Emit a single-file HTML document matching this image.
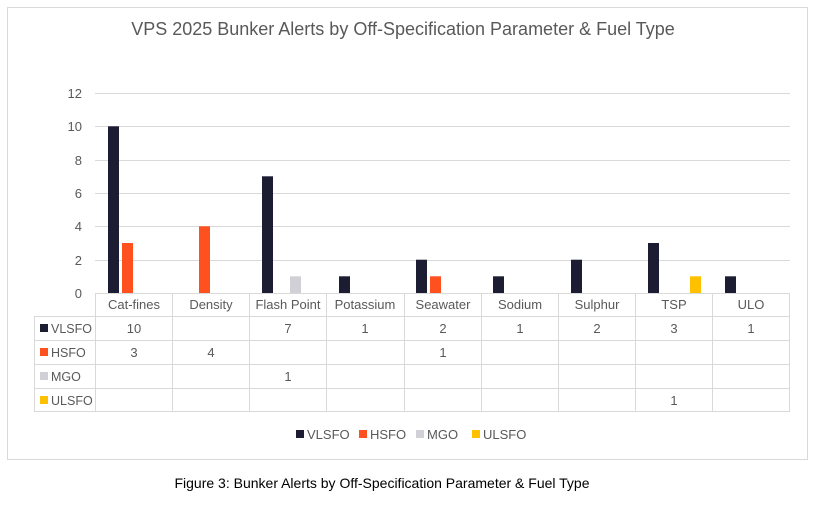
<!DOCTYPE html>
<html><head><style>
body{margin:0;background:#fff;width:815px;height:512px;overflow:hidden;font-family:"Liberation Sans",sans-serif}
</style></head><body>
<svg width="815" height="512" xmlns="http://www.w3.org/2000/svg" font-family="Liberation Sans, sans-serif">
<rect x="7.5" y="7.5" width="800" height="452" fill="#fff" stroke="#d9d9d9"/>
<text x="403" y="35" text-anchor="middle" font-size="18" fill="#595959">VPS 2025 Bunker Alerts by Off-Specification Parameter &amp; Fuel Type</text>
<g stroke="#d9d9d9" stroke-width="1">
<line x1="95" y1="93.5" x2="790" y2="93.5"/>
<line x1="95" y1="126.5" x2="790" y2="126.5"/>
<line x1="95" y1="160.5" x2="790" y2="160.5"/>
<line x1="95" y1="193.5" x2="790" y2="193.5"/>
<line x1="95" y1="226.5" x2="790" y2="226.5"/>
<line x1="95" y1="260.5" x2="790" y2="260.5"/>
</g>
<g font-size="13" fill="#595959" text-anchor="end">
<text x="82" y="98">12</text><text x="82" y="131">10</text><text x="82" y="165">8</text>
<text x="82" y="198">6</text><text x="82" y="231">4</text><text x="82" y="265">2</text><text x="82" y="298">0</text>
</g>
<g>
<rect x="108" y="126.3" width="11" height="166.7" fill="#1c1c33"/>
<rect x="122" y="243" width="11" height="50" fill="#ff5020"/>
<rect x="199" y="226.3" width="11" height="66.7" fill="#ff5020"/>
<rect x="262" y="176.3" width="11" height="116.7" fill="#1c1c33"/>
<rect x="290" y="276.3" width="11" height="16.7" fill="#d0d0d6"/>
<rect x="339" y="276.3" width="11" height="16.7" fill="#1c1c33"/>
<rect x="416" y="259.7" width="11" height="33.3" fill="#1c1c33"/>
<rect x="430" y="276.3" width="11" height="16.7" fill="#ff5020"/>
<rect x="493" y="276.3" width="11" height="16.7" fill="#1c1c33"/>
<rect x="571" y="259.7" width="11" height="33.3" fill="#1c1c33"/>
<rect x="648" y="243" width="11" height="50" fill="#1c1c33"/>
<rect x="690" y="276.3" width="11" height="16.7" fill="#ffc000"/>
<rect x="725" y="276.3" width="11" height="16.7" fill="#1c1c33"/>
</g>
<g stroke="#d9d9d9" stroke-width="1" fill="none">
<line x1="95" y1="293.5" x2="790" y2="293.5"/>
<line x1="34" y1="316.5" x2="790" y2="316.5"/>
<line x1="34" y1="340.5" x2="790" y2="340.5"/>
<line x1="34" y1="364.5" x2="790" y2="364.5"/>
<line x1="34" y1="388.5" x2="790" y2="388.5"/>
<line x1="34" y1="411.5" x2="790" y2="411.5"/>
<line x1="34.5" y1="316" x2="34.5" y2="412"/>
<line x1="95.5" y1="293" x2="95.5" y2="412"/>
<line x1="172.5" y1="293" x2="172.5" y2="412"/>
<line x1="249.5" y1="293" x2="249.5" y2="412"/>
<line x1="326.5" y1="293" x2="326.5" y2="412"/>
<line x1="404.5" y1="293" x2="404.5" y2="412"/>
<line x1="481.5" y1="293" x2="481.5" y2="412"/>
<line x1="558.5" y1="293" x2="558.5" y2="412"/>
<line x1="635.5" y1="293" x2="635.5" y2="412"/>
<line x1="712.5" y1="293" x2="712.5" y2="412"/>
<line x1="789.5" y1="293" x2="789.5" y2="412"/>
</g>
<g font-size="13" fill="#595959" text-anchor="middle">
<text x="134" y="309">Cat-fines</text><text x="211" y="309">Density</text><text x="288" y="309">Flash Point</text>
<text x="365" y="309">Potassium</text><text x="443" y="309">Seawater</text><text x="520" y="309">Sodium</text>
<text x="597" y="309">Sulphur</text><text x="674" y="309">TSP</text><text x="751" y="309">ULO</text>
<text x="134" y="333">10</text><text x="288" y="333">7</text><text x="365" y="333">1</text><text x="443" y="333">2</text>
<text x="520" y="333">1</text><text x="597" y="333">2</text><text x="674" y="333">3</text><text x="751" y="333">1</text>
<text x="134" y="357">3</text><text x="211" y="357">4</text><text x="443" y="357">1</text>
<text x="288" y="381">1</text>
<text x="674" y="405">1</text>
</g>
<g font-size="12.5" fill="#595959">
<rect x="40" y="324" width="8" height="8" fill="#1c1c33"/><text x="51" y="333">VLSFO</text>
<rect x="40" y="348" width="8" height="8" fill="#ff5020"/><text x="51" y="357">HSFO</text>
<rect x="40" y="372" width="8" height="8" fill="#d0d0d6"/><text x="51" y="381">MGO</text>
<rect x="40" y="396" width="8" height="8" fill="#ffc000"/><text x="51" y="405">ULSFO</text>
</g>
<g font-size="13" fill="#595959">
<rect x="296" y="430" width="8" height="8" fill="#1c1c33"/><text x="307" y="439">VLSFO</text>
<rect x="359" y="430" width="8" height="8" fill="#ff5020"/><text x="370" y="439">HSFO</text>
<rect x="416" y="430" width="8" height="8" fill="#d0d0d6"/><text x="427" y="439">MGO</text>
<rect x="472" y="430" width="8" height="8" fill="#ffc000"/><text x="483" y="439">ULSFO</text>
</g>
<text x="382" y="488" text-anchor="middle" font-size="14" fill="#000">Figure 3: Bunker Alerts by Off-Specification Parameter &amp; Fuel Type</text>
</svg>
</body></html>
